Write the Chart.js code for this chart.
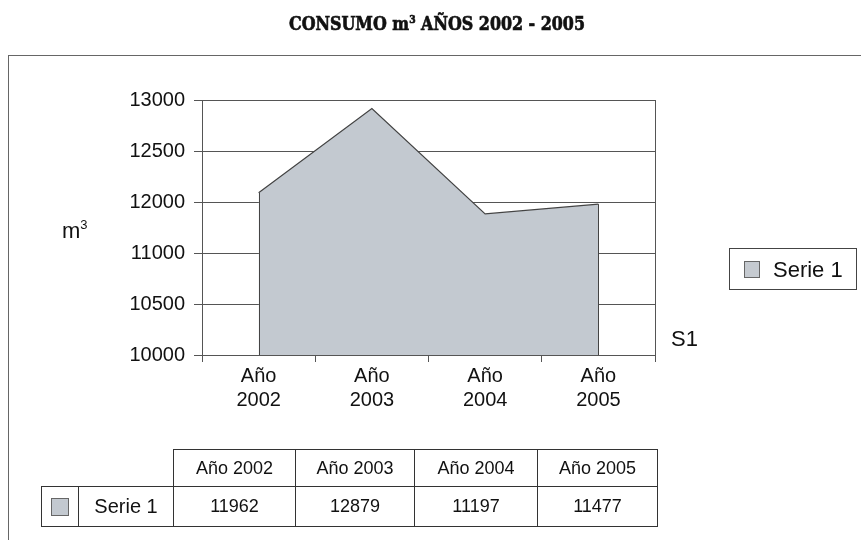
<!DOCTYPE html>
<html>
<head>
<meta charset="utf-8">
<script src="https://cdn.jsdelivr.net/npm/chart.js@4.4.1/dist/chart.umd.min.js"></script>
<style>
  html, body { margin: 0; padding: 0; background: #fff; }
  body { width: 861px; height: 540px; overflow: hidden; position: relative; font-family: "Liberation Sans", Arial, sans-serif; color: #111; }
  #frame { position: absolute; left: 8px; top: 55px; width: 900px; height: 600px; border: 1px solid #666; box-sizing: border-box; }
  #chart { position: absolute; left: 0; top: 0; }
  #title { position: absolute; left: 437px; top: 14px; white-space: nowrap; font-family: "DejaVu Serif", serif; font-weight: bold; font-size: 19px; line-height: 19px; color: #111; -webkit-text-stroke: 0.7px #111; transform-origin: 0 0; }
  #title sup { font-size: 11px; vertical-align: 7px; line-height: 0; }
  .lbl { position: absolute; font-size: 22px; line-height: 24px; white-space: nowrap; }
  .lbl sup { font-size: 13px; vertical-align: 9px; line-height: 0; }
  #legend { position: absolute; left: 729px; top: 248px; width: 128px; height: 42px; border: 1px solid #444; box-sizing: border-box; }
  .sw { position: absolute; background: #c5cad0; border: 1px solid #666; box-sizing: border-box; }
  #tbl { position: absolute; left: 41px; top: 449px; border-collapse: collapse; font-size: 18px; table-layout: fixed; }
  #tbl td { border: 1px solid #333; text-align: center; padding: 0; }
  #tbl tr.h td { height: 36px; }
  #tbl tr.d td { height: 39px; }
  #tbl td.blank { border-top: none; border-left: none; }
  #tbl td.name { font-size: 20px; }
</style>
</head>
<body>
<div id="frame"></div>
<canvas id="chart" width="861" height="540"></canvas>
<div id="title">CONSUMO m<sup>3</sup> AÑOS 2002 - 2005</div>
<div class="lbl" id="ylab" style="left:62px; top:219px;">m<sup>3</sup></div>
<div class="lbl" id="s1" style="left:671px; top:327px;">S1</div>
<div id="legend">
  <div class="sw" style="left:14px; top:12px; width:16px; height:17px;"></div>
  <div class="lbl" id="legtext" style="left:43px; top:9px;"></div>
</div>
<table id="tbl"></table>
<script>
// ---- data ----
const categories = ['Año 2002', 'Año 2003', 'Año 2004', 'Año 2005'];
const seriesName = 'Serie 1';
const plottedValues = [11910, 12900, 11660, 11775];   // as drawn on the chart's axis
const tableValues = [11962, 12879, 11197, 11477];     // as printed in the data table
const yTickLabels = ['10000', '10500', '11000', '12000', '12500', '13000'];

const fillColor = '#c3c9d0';
const lineColor = '#444';
const gridColor = '#555';

// title: fit to the reference width, centered
(function () {
  const t = document.getElementById('title');
  const w = t.getBoundingClientRect().width;
  const target = 296;
  const sx = target / w;
  t.style.left = (437 - target / 2) + 'px';
  t.style.transform = 'scaleX(' + sx + ')';
})();

document.getElementById('legtext').textContent = seriesName;

// data table
const tbl = document.getElementById('tbl');
const colW = [37, 95, 122, 119, 123, 120];
const cg = document.createElement('colgroup');
colW.forEach(w => { const c = document.createElement('col'); c.style.width = w + 'px'; cg.appendChild(c); });
tbl.appendChild(cg);
const hr = document.createElement('tr'); hr.className = 'h';
const blank = document.createElement('td'); blank.colSpan = 2; blank.className = 'blank'; hr.appendChild(blank);
categories.forEach(c => { const td = document.createElement('td'); td.textContent = c; hr.appendChild(td); });
tbl.appendChild(hr);
const dr = document.createElement('tr'); dr.className = 'd';
const sq = document.createElement('td');
sq.innerHTML = '<div style="width:18px;height:18px;margin:0 auto;background:' + fillColor + ';border:1px solid #666;box-sizing:border-box"></div>';
dr.appendChild(sq);
const nm = document.createElement('td'); nm.className = 'name'; nm.textContent = seriesName; dr.appendChild(nm);
tableValues.forEach(v => { const td = document.createElement('td'); td.textContent = v; dr.appendChild(td); });
tbl.appendChild(dr);

// plugin: right border of plot + vertical edges of area
const extras = {
  id: 'extras',
  afterDatasetsDraw(chart) {
    const { ctx, chartArea, scales } = chart;
    ctx.save();
    ctx.strokeStyle = gridColor;
    ctx.lineWidth = 1;
    ctx.beginPath();
    ctx.moveTo(Math.round(chartArea.right) + 0.5, chartArea.top);
    ctx.lineTo(Math.round(chartArea.right) + 0.5, chartArea.bottom);
    ctx.stroke();
    const pts = chart.getDatasetMeta(0).data;
    const bottom = scales.y.getPixelForValue(scales.y.min);
    ctx.strokeStyle = lineColor;
    ctx.beginPath();
    [pts[0], pts[pts.length - 1]].forEach(p => {
      ctx.moveTo(Math.round(p.x) + 0.5, p.y);
      ctx.lineTo(Math.round(p.x) + 0.5, bottom);
    });
    ctx.stroke();
    ctx.restore();
  }
};

new Chart(document.getElementById('chart'), {
  type: 'line',
  data: {
    labels: categories.map(c => c.split(' ')),
    datasets: [{
      label: seriesName,
      data: plottedValues,
      fill: 'start',
      backgroundColor: fillColor,
      borderColor: lineColor,
      borderWidth: 1.2,
      pointRadius: 0,
      tension: 0
    }]
  },
  options: {
    responsive: false,
    animation: false,
    devicePixelRatio: 1,
    layout: { padding: { left: 0, top: 100, right: 206, bottom: 125 } },
    plugins: { legend: { display: false }, title: { display: false }, tooltip: { enabled: false } },
    scales: {
      x: {
        offset: true,
        afterFit(s) { s.height = 60; },
        grid: { offset: true, drawOnChartArea: false, drawTicks: true, tickLength: 7, color: gridColor },
        border: { display: true, color: gridColor, width: 1 },
        ticks: { color: '#111', font: { family: 'Liberation Sans', size: 20 }, padding: 2, maxRotation: 0, autoSkip: false }
      },
      y: {
        min: 10000,
        max: 13000,
        afterFit(s) { s.width = 202; },
        afterBuildTicks(s) {
          s.ticks = yTickLabels.map((_, i) => ({ value: 10000 + i * 600 }));
        },
        grid: { color: gridColor, tickLength: 8, drawTicks: true },
        border: { display: true, color: gridColor, width: 1 },
        ticks: {
          color: '#111',
          font: { family: 'Liberation Sans', size: 20 },
          padding: 9,
          callback(value, index) { return yTickLabels[index]; }
        }
      }
    }
  },
  plugins: [extras]
});
</script>
</body>
</html>
